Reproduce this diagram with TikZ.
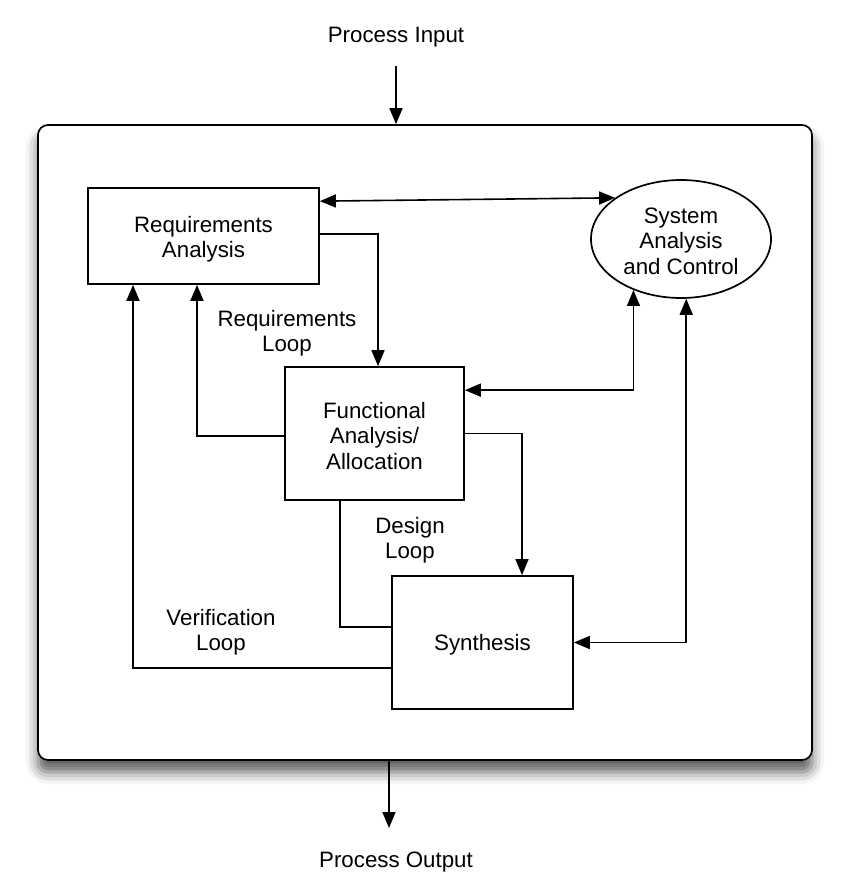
\documentclass[tikz,border=0pt]{standalone}
\usepackage{fontspec}
\setmainfont{Liberation Sans}
\usetikzlibrary{arrows.meta,shapes.geometric,shadows.blur}
\begin{document}
\begin{tikzpicture}[x=1pt,y=-1pt,
  every node/.style={font=\fontsize{22.3}{25.5}\selectfont, align=center},
  boxnode/.style={draw, line width=1.7pt, inner sep=0pt},
  conn/.style={line width=1.6pt},
  tip/.tip={Triangle[length=16pt,width=13pt]},
  arr/.style={conn, -tip},
  biarr/.style={conn, tip-tip},
  lbl/.style={inner sep=0pt}]
\useasboundingbox (0,0) rectangle (850,892);
\node[boxnode, rounded corners=10pt, minimum width=774pt, minimum height=635pt, fill=white,
  blur shadow={shadow xshift=0pt, shadow yshift=-12pt, shadow blur radius=12pt, shadow opacity=65}]
  (frame) at (425,442.5) {};
\node[lbl] (pin) at (396,37) {Process Input};
\node[lbl] (pout) at (396,862) {Process Output};
\coordinate (inA) at (396,66);
\coordinate (outB) at (389,828);
\draw[arr] (inA) -- (inA |- frame.north);
\draw[arr] (outB |- frame.south) -- (outB);

\node[boxnode, minimum width=231pt, minimum height=96pt] (req) at (203.5,236) {};
\node[boxnode, ellipse, minimum width=180pt, minimum height=118pt] (sac) at (681,239) {};
\node[boxnode, minimum width=179pt, minimum height=133pt] (func) at (374.5,433.5) {};
\node[boxnode, minimum width=181pt, minimum height=133pt] (syn) at (482.5,642.5) {};
\node[lbl] (reqT) at ([yshift=-3pt]req.center) {Requirements\\Analysis};
\node[lbl] (sacT) at ([yshift=-2pt]sac.center) {System\\Analysis\\and Control};
\node[lbl] (funcT) at ([yshift=-2.5pt]func.center) {Functional\\Analysis/\\Allocation};
\node[lbl] (synT) at ([yshift=-2.5pt]syn.center) {Synthesis};

\node[lbl] (rl) at (287,333) {Requirements\\Loop};
\node[lbl] (dl) at (410,540) {Design\\Loop};
\node[lbl] (vl) at (221,632) {Verification\\Loop};

\draw[biarr] ([yshift=-14pt]req.north east) -- (sac.148);
\draw[arr] ([yshift=2pt]req.east) -| ([xshift=3.5pt]func.north);
\draw[arr] ([yshift=-2.5pt]func.west) -| ([xshift=-6.5pt]req.south);
\draw[biarr] ([yshift=-24pt]func.north east) -| (sac.227);
\draw[arr] (func.east) -| ([xshift=39.5pt]syn.north);
\draw[conn] ([xshift=-34.5pt]func.south) |- ([yshift=15.5pt]syn.west);
\draw[arr] ([yshift=-25.5pt]syn.west) -| ([xshift=-70.5pt]req.south);
\draw[biarr] (syn.east) -| (sac.-85);
\end{tikzpicture}
\end{document}
